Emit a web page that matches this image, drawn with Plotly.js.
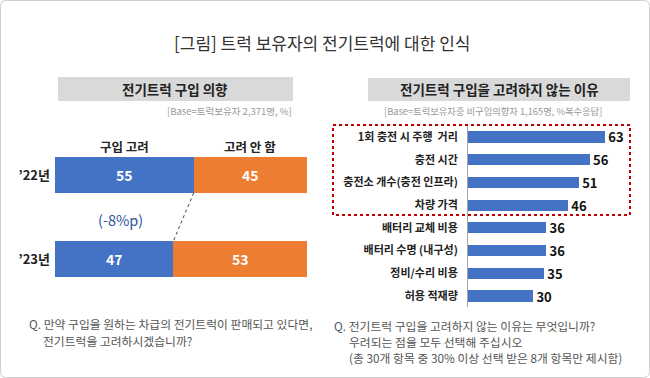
<!DOCTYPE html>
<html>
<head>
<meta charset="utf-8">
<script src="https://cdn.plot.ly/plotly-3.0.1.min.js"></script>
<style>html,body{margin:0;padding:0;background:#fff;}#chart{width:650px;height:378px;}</style>
</head>
<body>
<div id="chart"></div>
<script>
// ---- data ----
const years = ["’22년", "’23년"];
const consider = [55, 47];
const notConsider = [45, 53];
const colHeaders = ["구입 고려", "고려 안 함"];
const reasons = ["1회 충전 시 주행\u00a0\u00a0거리", "충전 시간", "충전소 개수(충전 인프라)", "차량 가격",
                 "배터리 교체 비용", "배터리 수명 (내구성)", "정비/수리 비용", "허용 적재량"];
const reasonValues = [63, 56, 51, 46, 36, 36, 35, 30];

const W = 650, H = 378;
const px = x => x / W;
const py = y => 1 - y / H;
const FONT = '"Noto Sans CJK KR", "Noto Sans", sans-serif';
const BLUE = '#4472C4', ORANGE = '#ED7D31';
const leftBarWidth = 0.43;

const traces = [
  {
    type: 'bar', orientation: 'h', y: years, x: consider, name: colHeaders[0],
    marker: {color: BLUE}, width: leftBarWidth,
    text: consider.map(String), textposition: 'inside', insidetextanchor: 'middle', constraintext: 'none',
    textfont: {color: '#fff', size: 14, family: FONT, weight: 'bold'},
    xaxis: 'x', yaxis: 'y', hoverinfo: 'skip'
  },
  {
    type: 'bar', orientation: 'h', y: years, x: notConsider, name: colHeaders[1],
    marker: {color: ORANGE}, width: leftBarWidth,
    text: notConsider.map(String), textposition: 'inside', insidetextanchor: 'middle', constraintext: 'none',
    textfont: {color: '#fff', size: 14, family: FONT, weight: 'bold'},
    xaxis: 'x', yaxis: 'y', hoverinfo: 'skip'
  },
  {
    type: 'bar', orientation: 'h', y: reasons, x: reasonValues,
    marker: {color: BLUE}, width: 0.49,
    text: reasonValues.map(String), textposition: 'outside', cliponaxis: false, constraintext: 'none',
    textfont: {color: '#111', size: 13, family: FONT, weight: 'bold'},
    xaxis: 'x2', yaxis: 'y2', hoverinfo: 'skip'
  }
];

const ann = (text, x, y, opts) => Object.assign({
  text: text, x: x, y: y, xref: 'paper', yref: 'paper', xanchor: 'center', yanchor: 'middle',
  showarrow: false
}, opts);

const Q = {size: 11.8, color: '#555', family: FONT};

const annotations = [
  ann('[그림] 트럭 보유자의 전기트럭에 대한 인식', px(322), py(42), {font: {size: 17, color: '#333', family: FONT}}),
  ann('전기트럭 구입 의향', px(175), py(89), {font: {size: 13.5, color: '#222', family: FONT, weight: 'bold'}}),
  ann('[Base=트럭보유자 2,371명, %]', px(294), py(111), {xanchor: 'right', font: {size: 9.5, color: '#999', family: FONT}}),
  ann('전기트럭 구입을 고려하지 않는 이유', px(499), py(89), {font: {size: 13.5, color: '#222', family: FONT, weight: 'bold'}}),
  ann('[Base=트럭보유자중 비구입의향자 1,165명, %복수응답]', px(493), py(111), {font: {size: 9.3, color: '#999', family: FONT}}),
  ann(colHeaders[0], consider[0] / 2, py(146), {xref: 'x', font: {size: 12.5, color: '#222', family: FONT, weight: 'bold'}}),
  ann(colHeaders[1], consider[0] + notConsider[0] / 2, py(146), {xref: 'x', font: {size: 12.5, color: '#222', family: FONT, weight: 'bold'}}),
  ann('(' + (consider[1] - consider[0]) + '%p)', px(120), py(219), {font: {size: 14.5, color: '#2F55A0', family: FONT}}),
  ann('Q. 만약 구입을 원하는 차급의 전기트럭이 판매되고 있다면,', px(27), py(323), {xanchor: 'left', font: Q}),
  ann('전기트럭을 고려하시겠습니까?', px(41), py(340), {xanchor: 'left', font: Q}),
  ann('Q. 전기트럭 구입을 고려하지 않는 이유는 무엇입니까?', px(332), py(325), {xanchor: 'left', font: Q}),
  ann('우려되는 점을 모두 선택해 주십시오', px(347), py(341), {xanchor: 'left', font: Q}),
  ann('(총 30개 항목 중 30% 이상 선택 받은 8개 항목만 제시함)', px(347), py(357), {xanchor: 'left', font: Q})
];

const r = 6;
const roundRect = (x0, y0, x1, y1) => {
  const rx = r / W, ry = r / H;
  const X0 = px(x0), X1 = px(x1), Y0 = py(y0), Y1 = py(y1);
  return `M ${X0 + rx},${Y0} L ${X1 - rx},${Y0} Q ${X1},${Y0} ${X1},${Y0 - ry} L ${X1},${Y1 + ry} Q ${X1},${Y1} ${X1 - rx},${Y1} L ${X0 + rx},${Y1} Q ${X0},${Y1} ${X0},${Y1 + ry} L ${X0},${Y0 - ry} Q ${X0},${Y0} ${X0 + rx},${Y0} Z`;
};

const shapes = [
  {type: 'path', xref: 'paper', yref: 'paper', path: roundRect(0.5, 0.5, 649.5, 377.5),
   line: {color: '#cfcfcf', width: 1}, fillcolor: 'rgba(0,0,0,0)'},
  {type: 'rect', xref: 'paper', yref: 'paper', x0: px(58), x1: px(293), y0: py(77), y1: py(101),
   line: {width: 0}, fillcolor: '#D9D9D9', layer: 'below'},
  {type: 'rect', xref: 'paper', yref: 'paper', x0: px(368), x1: px(630), y0: py(78), y1: py(101),
   line: {width: 0}, fillcolor: '#D9D9D9', layer: 'below'},
  {type: 'rect', xref: 'paper', yref: 'paper', x0: px(333), x1: px(630), y0: py(125), y1: py(215),
   line: {color: '#C00000', width: 2, dash: 'dot'}, fillcolor: 'rgba(0,0,0,0)'},
  {type: 'line', xref: 'x', yref: 'y', x0: consider[0], y0: 0 + leftBarWidth / 2, x1: consider[1], y1: 1 - leftBarWidth / 2,
   line: {color: '#444', width: 1, dash: 'dot'}}
];

const layout = {
  width: W, height: H,
  margin: {l: 0, r: 0, t: 0, b: 0},
  paper_bgcolor: '#fff', plot_bgcolor: 'rgba(0,0,0,0)',
  showlegend: false, barmode: 'stack', bargap: 0,
  font: {family: FONT},
  xaxis: {domain: [px(55), px(307)], range: [0, 100], showgrid: false, zeroline: false,
          showticklabels: false, showline: false, fixedrange: true},
  yaxis: {domain: [py(301), py(133)], range: [1.5, -0.5], type: 'category', showgrid: false,
          zeroline: false, showline: false, ticks: '', ticklabelstandoff: 4,
          tickfont: {size: 13, color: '#222', family: FONT, weight: 'bold'}, fixedrange: true},
  xaxis2: {domain: [px(468), px(630)], range: [0, 74.3], anchor: 'y2', showgrid: false, zeroline: false,
           showticklabels: false, showline: false, fixedrange: true},
  yaxis2: {domain: [py(307.4), py(125.6)], range: [7.5, -0.5], anchor: 'x2', type: 'category', showgrid: false,
           zeroline: false, showline: true, linecolor: '#a6a6a6', linewidth: 1, ticks: '', ticklabelstandoff: 7,
           tickfont: {size: 11, color: '#222', family: FONT, weight: 'bold'}, fixedrange: true},
  annotations: annotations,
  shapes: shapes
};

Plotly.newPlot('chart', traces, layout, {displayModeBar: false, staticPlot: true});
</script>
</body>
</html>
